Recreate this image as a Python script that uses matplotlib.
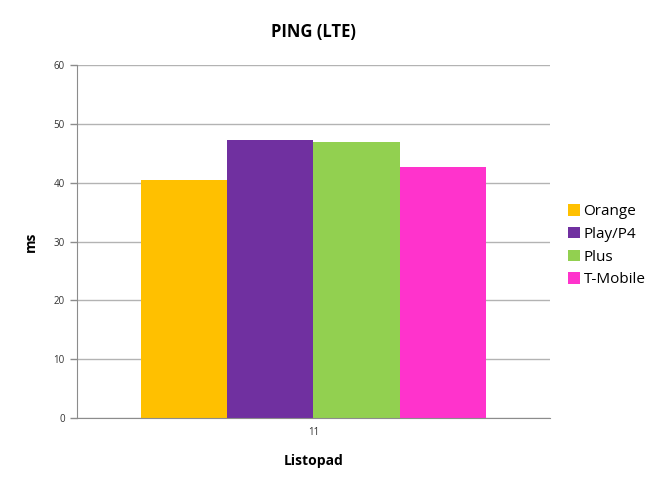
import numpy as np
import matplotlib.pyplot as plt

plt.rcParams['font.family'] = ['Open Sans', 'DejaVu Sans']

# dane
operators = ['Orange', 'Play/P4', 'Plus', 'T-Mobile']
ping_ms = [40.5, 47.2, 46.9, 42.6]
colors = ['#FFC000', '#7030A0', '#92D050', '#FF33CC']
category = ['11']

fig = plt.figure(figsize=(6.55, 4.87), dpi=100)
ax = fig.add_axes([0.117, 0.141, 0.723, 0.726])

width = 0.182
offsets = (np.arange(len(operators)) - 1.5) * width
for name, val, c, off in zip(operators, ping_ms, colors, offsets):
    ax.bar(off, val, width=width, color=c, label=name, zorder=2)

ax.set_xlim(-0.5, 0.5)
ax.set_ylim(0, 60)
ax.set_yticks(range(0, 61, 10))
ax.set_xticks([0])
ax.set_xticklabels(category)
ax.yaxis.grid(True, color='#b3b3b3', linewidth=1)
ax.set_axisbelow(True)
for s in ['top', 'right']:
    ax.spines[s].set_visible(False)
for s in ['left', 'bottom']:
    ax.spines[s].set_color('#8c8c8c')
ax.tick_params(axis='y', labelsize=7, colors='#8c8c8c', labelcolor='#333333', length=5, width=1)
ax.tick_params(axis='x', labelsize=7, length=0, labelcolor='#333333', pad=6)

ax.set_title('PING (LTE)', fontsize=12, fontweight='bold', pad=20)
ax.set_ylabel('ms', fontsize=10, fontweight='bold', labelpad=11)
ax.set_xlabel('Listopad', fontsize=10, fontweight='bold', labelpad=12)

ax.legend(loc='center left', bbox_to_anchor=(1.025, 0.488), frameon=False,
          fontsize=11, handlelength=0.75, handleheight=0.75, handletextpad=0.25,
          labelspacing=0.5, borderaxespad=0)

fig.savefig('out.png', dpi=100)
